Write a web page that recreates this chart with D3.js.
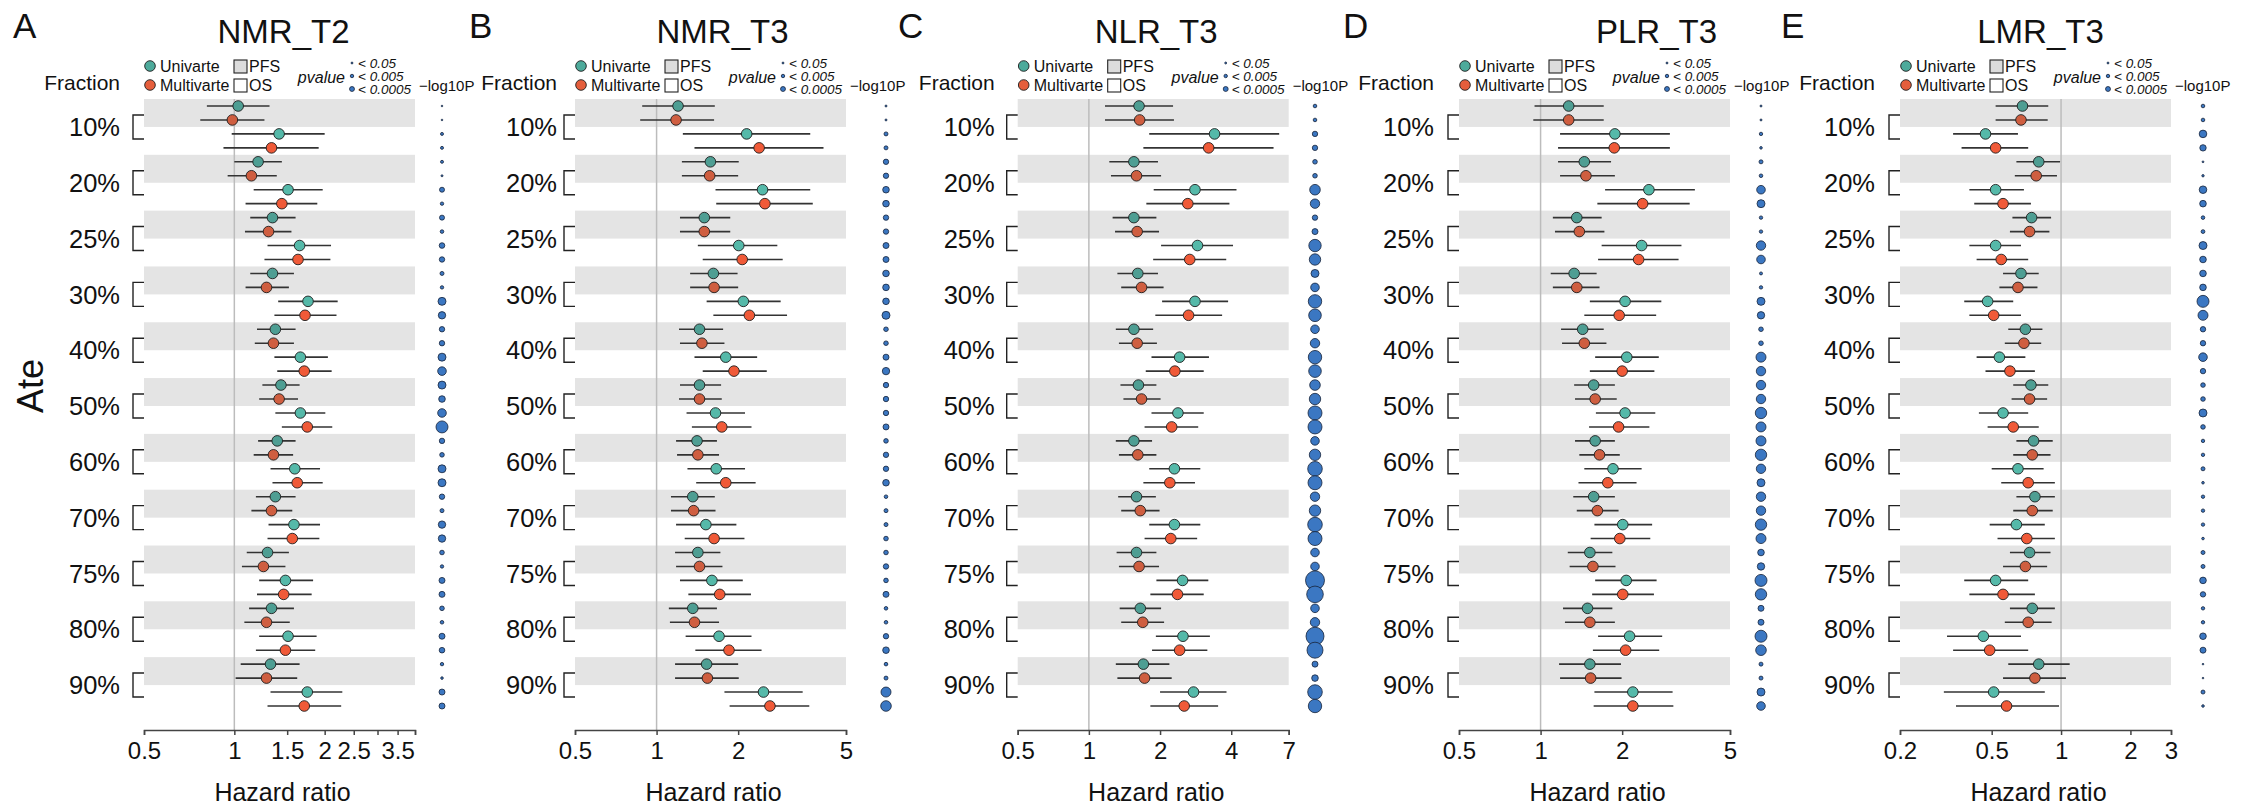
<!DOCTYPE html>
<html><head><meta charset="utf-8">
<script src="https://cdn.jsdelivr.net/npm/d3@7"></script>
<style>
body{margin:0;background:#fff}
svg{display:block}
text{font-family:"Liberation Sans",Arial,Helvetica,sans-serif;fill:#111}
</style>
</head><body>
<svg id="c" width="2241" height="806"></svg>
<script>
// ---------------- DATA ----------------
const fractions = ["10%","20%","25%","30%","40%","50%","60%","70%","75%","80%","90%"];
// row order inside each fraction: PFS-Univarte, PFS-Multivarte, OS-Univarte, OS-Multivarte
const subRows = ["PFS Univarte","PFS Multivarte","OS Univarte","OS Multivarte"];
const titles = ["NMR_T2","NMR_T3","NLR_T3","PLR_T3","LMR_T3"];
const letters = ["A","B","C","D","E"];
const legendModel = ["Univarte","Multivarte"];
const legendOutcome = ["PFS","OS"];
const pLegendLabels = ["< 0.05","< 0.005","< 0.0005"];
const pLegendValues = [1.3, 2.3, 3.3];

const nmrT2_hr = [1.03,0.985,1.41,1.33, 1.20,1.14,1.51,1.44, 1.34,1.30,1.65,1.63, 1.34,1.28,1.76,1.72, 1.37,1.35,1.66,1.71, 1.43,1.41,1.66,1.75, 1.39,1.35,1.59,1.62, 1.37,1.33,1.58,1.56, 1.29,1.25,1.48,1.46, 1.33,1.28,1.51,1.48, 1.32,1.28,1.75,1.71];
const nmrT2_lo = [0.81,0.77,0.98,0.92, 1.0,0.95,1.16,1.09, 1.13,1.085,1.29,1.26, 1.13,1.09,1.40,1.36, 1.19,1.17,1.36,1.39, 1.24,1.21,1.37,1.44, 1.20,1.16,1.32,1.34, 1.18,1.14,1.30,1.29, 1.10,1.06,1.21,1.19, 1.12,1.08,1.21,1.18, 1.05,1.01,1.32,1.29];
const nmrT2_hi = [1.31,1.26,2.0,1.91, 1.44,1.385,1.97,1.89, 1.60,1.55,2.10,2.09, 1.58,1.52,2.21,2.19, 1.60,1.58,2.05,2.11, 1.65,1.63,2.01,2.12, 1.60,1.57,1.93,1.97, 1.60,1.56,1.93,1.92, 1.52,1.48,1.83,1.81, 1.58,1.53,1.88,1.86, 1.65,1.62,2.29,2.27];
const nmrT2_logp = [0.8,0.8,1.5,1.5, 1.5,1.0,2.5,1.7, 2.5,1.8,2.8,2.7, 2.0,1.7,4.0,3.7, 2.7,2.7,4.0,4.3, 4.0,3.3,4.3,6.0, 2.7,2.3,4.0,4.0, 2.7,2.0,3.7,3.7, 2.3,1.7,3.0,3.0, 2.3,1.8,3.0,2.8, 1.7,1.3,3.0,3.0];

const nmrT3_hr = [1.20,1.18,2.15,2.39, 1.58,1.57,2.46,2.51, 1.50,1.50,2.01,2.07, 1.62,1.63,2.09,2.20, 1.44,1.47,1.80,1.93, 1.44,1.44,1.65,1.74, 1.41,1.42,1.66,1.80, 1.36,1.37,1.52,1.63, 1.42,1.44,1.60,1.71, 1.36,1.38,1.70,1.85, 1.53,1.54,2.48,2.62];
const nmrT3_lo = [0.885,0.87,1.25,1.38, 1.24,1.24,1.65,1.66, 1.22,1.22,1.42,1.48, 1.33,1.33,1.53,1.62, 1.21,1.22,1.38,1.48, 1.22,1.21,1.29,1.35, 1.18,1.19,1.30,1.40, 1.13,1.13,1.18,1.27, 1.17,1.18,1.22,1.31, 1.11,1.12,1.28,1.39, 1.17,1.17,1.78,1.86];
const nmrT3_hi = [1.64,1.63,3.69,4.13, 2.01,2.0,3.69,3.77, 1.87,1.87,2.79,2.92, 1.99,2.0,2.87,3.03, 1.76,1.78,2.35,2.55, 1.73,1.74,2.12,2.24, 1.67,1.70,2.12,2.32, 1.64,1.65,1.97,2.11, 1.72,1.75,2.08,2.23, 1.67,1.70,2.24,2.44, 2.0,2.01,3.46,3.66];
const nmrT3_logp = [1.0,1.0,2.0,2.0, 2.7,2.7,3.3,3.3, 2.7,2.7,3.0,3.0, 3.3,3.3,3.3,4.0, 2.3,2.3,3.0,3.7, 2.7,2.7,2.7,3.0, 2.3,2.7,2.7,3.3, 1.8,2.0,2.0,2.3, 2.3,2.7,2.3,3.0, 1.8,1.8,2.7,3.3, 1.8,2.0,5.0,5.3];

const nlrT3_hr = [1.63,1.64,3.40,3.21, 1.55,1.59,2.81,2.62, 1.55,1.60,2.88,2.67, 1.61,1.67,2.81,2.64, 1.55,1.60,2.42,2.31, 1.62,1.67,2.38,2.24, 1.55,1.61,2.30,2.20, 1.59,1.65,2.30,2.22, 1.59,1.63,2.49,2.37, 1.65,1.69,2.50,2.42, 1.70,1.72,2.77,2.53];
const nlrT3_lo = [1.17,1.17,1.80,1.70, 1.22,1.24,1.88,1.75, 1.26,1.29,2.02,1.87, 1.32,1.37,2.04,1.91, 1.30,1.34,1.84,1.74, 1.36,1.40,1.84,1.72, 1.30,1.34,1.80,1.70, 1.33,1.37,1.80,1.72, 1.31,1.34,1.93,1.82, 1.35,1.37,1.92,1.85, 1.30,1.32,2.0,1.82];
const nlrT3_hi = [2.27,2.29,6.38,6.04, 1.96,2.02,4.21,3.93, 1.93,1.98,4.07,3.81, 1.96,2.07,3.88,3.66, 1.87,1.94,3.22,3.06, 1.93,2.01,3.06,2.90, 1.85,1.93,2.96,2.81, 1.92,1.99,2.96,2.87, 1.93,1.98,3.20,3.06, 2.02,2.08,3.25,3.17, 2.19,2.24,3.82,3.52];
const nlrT3_logp = [1.8,1.8,2.7,2.7, 2.3,2.3,5.3,4.7, 2.7,3.0,6.2,5.7, 4.0,4.3,6.7,6.3, 4.3,4.7,6.7,6.3, 5.3,5.7,7.0,7.0, 4.3,5.7,7.3,7.0, 4.7,5.7,7.3,7.0, 4.3,4.3,9.5,8.3, 4.3,4.7,9.0,8.0, 3.0,3.3,7.3,6.7];

const plrT3_hr = [1.27,1.27,1.88,1.87, 1.45,1.47,2.51,2.38, 1.36,1.39,2.36,2.30, 1.33,1.36,2.05,1.95, 1.43,1.45,2.08,2.0, 1.57,1.59,2.05,1.94, 1.59,1.65,1.85,1.77, 1.57,1.62,2.01,1.96, 1.52,1.56,2.07,2.01, 1.49,1.52,2.13,2.06, 1.52,1.53,2.19,2.19];
const plrT3_lo = [0.95,0.94,1.18,1.16, 1.16,1.18,1.73,1.62, 1.11,1.13,1.68,1.63, 1.09,1.11,1.52,1.45, 1.19,1.20,1.59,1.52, 1.33,1.34,1.60,1.51, 1.34,1.39,1.45,1.38, 1.32,1.36,1.58,1.53, 1.26,1.28,1.59,1.55, 1.21,1.23,1.63,1.56, 1.17,1.18,1.58,1.57];
const plrT3_hi = [1.71,1.71,3.0,3.0, 1.82,1.88,3.71,3.55, 1.68,1.72,3.31,3.23, 1.61,1.65,2.79,2.67, 1.71,1.75,2.73,2.63, 1.88,1.91,2.65,2.52, 1.88,1.96,2.36,2.26, 1.88,1.94,2.58,2.54, 1.84,1.89,2.68,2.62, 1.84,1.88,2.81,2.74, 1.98,1.99,3.07,3.09];
const plrT3_logp = [1.0,1.0,1.7,1.3, 2.0,1.8,4.3,4.0, 1.7,1.7,4.7,4.3, 1.5,1.7,4.0,3.7, 2.3,2.3,5.0,4.7, 4.7,4.7,5.7,5.0, 5.0,5.7,4.7,4.0, 4.7,4.7,5.7,5.0, 3.3,3.7,6.0,5.7, 3.0,3.0,6.0,5.3, 2.0,2.0,4.0,4.3];

const lmrT3_hr = [0.68,0.67,0.47,0.52, 0.80,0.78,0.52,0.56, 0.745,0.73,0.52,0.55, 0.67,0.65,0.48,0.51, 0.70,0.69,0.54,0.60, 0.74,0.73,0.56,0.62, 0.76,0.75,0.65,0.72, 0.77,0.75,0.64,0.71, 0.73,0.70,0.52,0.56, 0.75,0.72,0.46,0.49, 0.80,0.77,0.51,0.58];
const lmrT3_lo = [0.52,0.52,0.34,0.37, 0.64,0.63,0.40,0.42, 0.615,0.60,0.40,0.43, 0.56,0.54,0.38,0.40, 0.59,0.57,0.43,0.47, 0.62,0.61,0.44,0.48, 0.64,0.62,0.50,0.55, 0.64,0.62,0.49,0.53, 0.60,0.56,0.38,0.40, 0.60,0.57,0.32,0.34, 0.59,0.56,0.31,0.35];
const lmrT3_hi = [0.88,0.875,0.65,0.72, 0.99,0.96,0.69,0.74, 0.905,0.89,0.67,0.72, 0.80,0.79,0.62,0.67, 0.83,0.82,0.70,0.77, 0.88,0.87,0.72,0.80, 0.92,0.90,0.84,0.94, 0.94,0.92,0.85,0.94, 0.90,0.87,0.72,0.77, 0.94,0.91,0.67,0.72, 1.09,1.05,0.85,0.98];
const lmrT3_logp = [1.8,1.8,3.8,3.2, 0.9,1.2,3.8,3.3, 1.8,1.9,4.0,3.3, 3.3,3.3,6.0,5.0, 2.7,2.7,4.3,2.7, 2.3,2.3,4.0,2.3, 1.7,1.7,2.0,1.3, 1.7,1.7,1.7,1.3, 2.0,2.0,3.3,2.7, 1.7,1.7,3.3,3.0, 0.8,0.8,2.0,1.3];

const domA = [0.5,4],  ticksA = [0.5,1,1.5,2,2.5,3,3.5,4], labelsA = ["0.5","1","1.5","2","2.5","","3.5",""];
const domB = [0.5,5],  ticksB = [0.5,1,2,5],           labelsB = ["0.5","1","2","5"];
const domC = [0.5,7],  ticksC = [0.5,1,2,4,7],         labelsC = ["0.5","1","2","4","7"];
const domD = [0.5,5],  ticksD = [0.5,1,2,5],           labelsD = ["0.5","1","2","5"];
const domE = [0.2,3],  ticksE = [0.2,0.5,1,2,3],       labelsE = ["0.2","0.5","1","2","3"];

// ---------------- BUILD ----------------
const panels = [
  {hr:nmrT2_hr, lo:nmrT2_lo, hi:nmrT2_hi, logp:nmrT2_logp, domain:domA, ticks:ticksA, labels:labelsA},
  {hr:nmrT3_hr, lo:nmrT3_lo, hi:nmrT3_hi, logp:nmrT3_logp, domain:domB, ticks:ticksB, labels:labelsB},
  {hr:nlrT3_hr, lo:nlrT3_lo, hi:nlrT3_hi, logp:nlrT3_logp, domain:domC, ticks:ticksC, labels:labelsC},
  {hr:plrT3_hr, lo:plrT3_lo, hi:plrT3_hi, logp:plrT3_logp, domain:domD, ticks:ticksD, labels:labelsD},
  {hr:lmrT3_hr, lo:lmrT3_lo, hi:lmrT3_hi, logp:lmrT3_logp, domain:domE, ticks:ticksE, labels:labelsE}
];
// layout (positions only)
const layout = [
  {x0:144,    gap:24, dotX:442,  letterX:13,   titleDx:4},
  {x0:575,    gap:18, dotX:886,  letterX:469,  titleDx:12},
  {x0:1017.7, gap:23, dotX:1315, letterX:898,  titleDx:3},
  {x0:1459,   gap:25, dotX:1761, letterX:1343, titleDx:62},
  {x0:1900,   gap:25, dotX:2203, letterX:1781, titleDx:5}
];
const W = 271;
const colPFS = ["#4E9E93","#CF5E40"];
const colOS  = ["#55B9A9","#F05A38"];
const colLegend = ["#4DAA9B","#E55E3C"];
const dotFill = "#3B77C2";

const svg = d3.select("#c");
const y = d3.scaleLinear().domain([0,43]).range([106,706]);
const rScale = d3.scaleLinear().domain([0,10]).range([0,10]);
const rows = d3.range(fractions.length*subRows.length);

function pointColor(i){ const s=i%4; return s<2 ? colPFS[s] : colOS[s-2]; }

panels.forEach((p,k)=>{
  const L = layout[k];
  const g = svg.append("g");
  const x = d3.scaleLog().domain(p.domain).range([L.x0, L.x0+W]);

  // panel letter & title
  g.append("text").attr("x",L.letterX).attr("y",38).attr("font-size",35).text(letters[k]);
  g.append("text").attr("x",L.x0+W/2+L.titleDx).attr("y",43).attr("text-anchor","middle").attr("font-size",33).text(titles[k]);

  // grey bands (PFS rows)
  g.selectAll("rect.band").data(fractions).join("rect").attr("class","band")
    .attr("x",L.x0).attr("width",W)
    .attr("y",(f,gi)=>y(4*gi)-7).attr("height",(f,gi)=>y(4*gi+1)-y(4*gi)+14)
    .attr("fill","#e4e4e4");

  // reference line HR = 1
  g.append("line").attr("x1",x(1)).attr("x2",x(1)).attr("y1",99).attr("y2",730)
    .attr("stroke","#bcbcbc").attr("stroke-width",1.5);

  // brackets + fraction labels
  fractions.forEach((f,gi)=>{
    const yc = (y(4*gi)+y(4*gi+3))/2;
    g.append("path").attr("d",`M${L.x0},${yc-12}H${L.x0-11}V${yc+12}H${L.x0}`)
      .attr("fill","none").attr("stroke","#222").attr("stroke-width",1.4);
    g.append("text").attr("x",L.x0-L.gap).attr("y",yc).attr("dy","0.36em")
      .attr("text-anchor","end").attr("font-size",25.5).text(f);
  });

  // CI lines
  g.selectAll("line.ci").data(rows).join("line").attr("class","ci")
    .attr("x1",i=>x(p.lo[i])).attr("x2",i=>x(p.hi[i]))
    .attr("y1",i=>y(i)).attr("y2",i=>y(i))
    .attr("stroke","#333").attr("stroke-width",1.6);
  // points
  g.selectAll("circle.pt").data(rows).join("circle").attr("class","pt")
    .attr("cx",i=>x(p.hr[i])).attr("cy",i=>y(i)).attr("r",5.3)
    .attr("fill",pointColor).attr("stroke","#1e1e1e").attr("stroke-width",0.9);

  // -log10P column
  g.selectAll("circle.lp").data(rows).join("circle").attr("class","lp")
    .attr("cx",L.dotX).attr("cy",i=>y(i)).attr("r",i=>rScale(p.logp[i]))
    .attr("fill",dotFill).attr("stroke","#16233a").attr("stroke-width",0.8);

  // axis
  const ax = d3.axisBottom(x).tickValues(p.ticks).tickFormat((d,i)=>p.labels[i])
    .tickSize(5).tickSizeOuter(5).tickPadding(7);
  const axg = g.append("g").attr("transform","translate(0,730)").call(ax);
  axg.select(".domain").attr("stroke","#444").attr("stroke-width",1.5);
  axg.selectAll(".tick line").attr("stroke","#444").attr("stroke-width",1.5);
  axg.selectAll(".tick text").attr("font-size",24).attr("fill","#111")
    .attr("font-family","'Liberation Sans',Arial,sans-serif");
  g.append("text").attr("x",L.x0+W/2+3).attr("y",801).attr("text-anchor","middle")
    .attr("font-size",25).text("Hazard ratio");

  // headers
  g.append("text").attr("x",L.x0-L.gap).attr("y",90).attr("text-anchor","end")
    .attr("font-size",21).text("Fraction");
  legendModel.forEach((m,j)=>{
    g.append("circle").attr("cx",L.x0+6).attr("cy",66+19*j).attr("r",5.3)
      .attr("fill",colLegend[j]).attr("stroke","#1e1e1e").attr("stroke-width",0.9);
    g.append("text").attr("x",L.x0+16).attr("y",66+19*j).attr("dy","0.36em")
      .attr("font-size",16).text(m);
  });
  legendOutcome.forEach((o,j)=>{
    g.append("rect").attr("x",L.x0+90).attr("y",60+19*j).attr("width",13).attr("height",13)
      .attr("fill",j===0?"#dcdcdc":"#fff").attr("stroke","#222").attr("stroke-width",1.1);
    g.append("text").attr("x",L.x0+105).attr("y",66+19*j).attr("dy","0.36em")
      .attr("font-size",16).text(o);
  });
  g.append("text").attr("x",L.x0+201).attr("y",77).attr("dy","0.36em")
    .attr("text-anchor","end").attr("font-size",16).attr("font-style","italic").text("pvalue");
  pLegendLabels.forEach((t,j)=>{
    g.append("circle").attr("cx",L.x0+208).attr("cy",63+13*j).attr("r",rScale(pLegendValues[j])*0.75)
      .attr("fill",dotFill).attr("stroke","#16233a").attr("stroke-width",0.8);
    g.append("text").attr("x",L.x0+214).attr("y",63+13*j).attr("dy","0.36em")
      .attr("font-size",13.5).attr("font-style","italic").text(t);
  });
  g.append("text").attr("x",L.x0+275).attr("y",91).attr("font-size",15).text("\u2212log10P");
});

// y-axis title (panel A only)
svg.append("text").attr("transform","translate(30,386) rotate(-90)")
  .attr("text-anchor","middle").attr("dy","0.36em").attr("font-size",36).text("Ate");
</script>
</body></html>
